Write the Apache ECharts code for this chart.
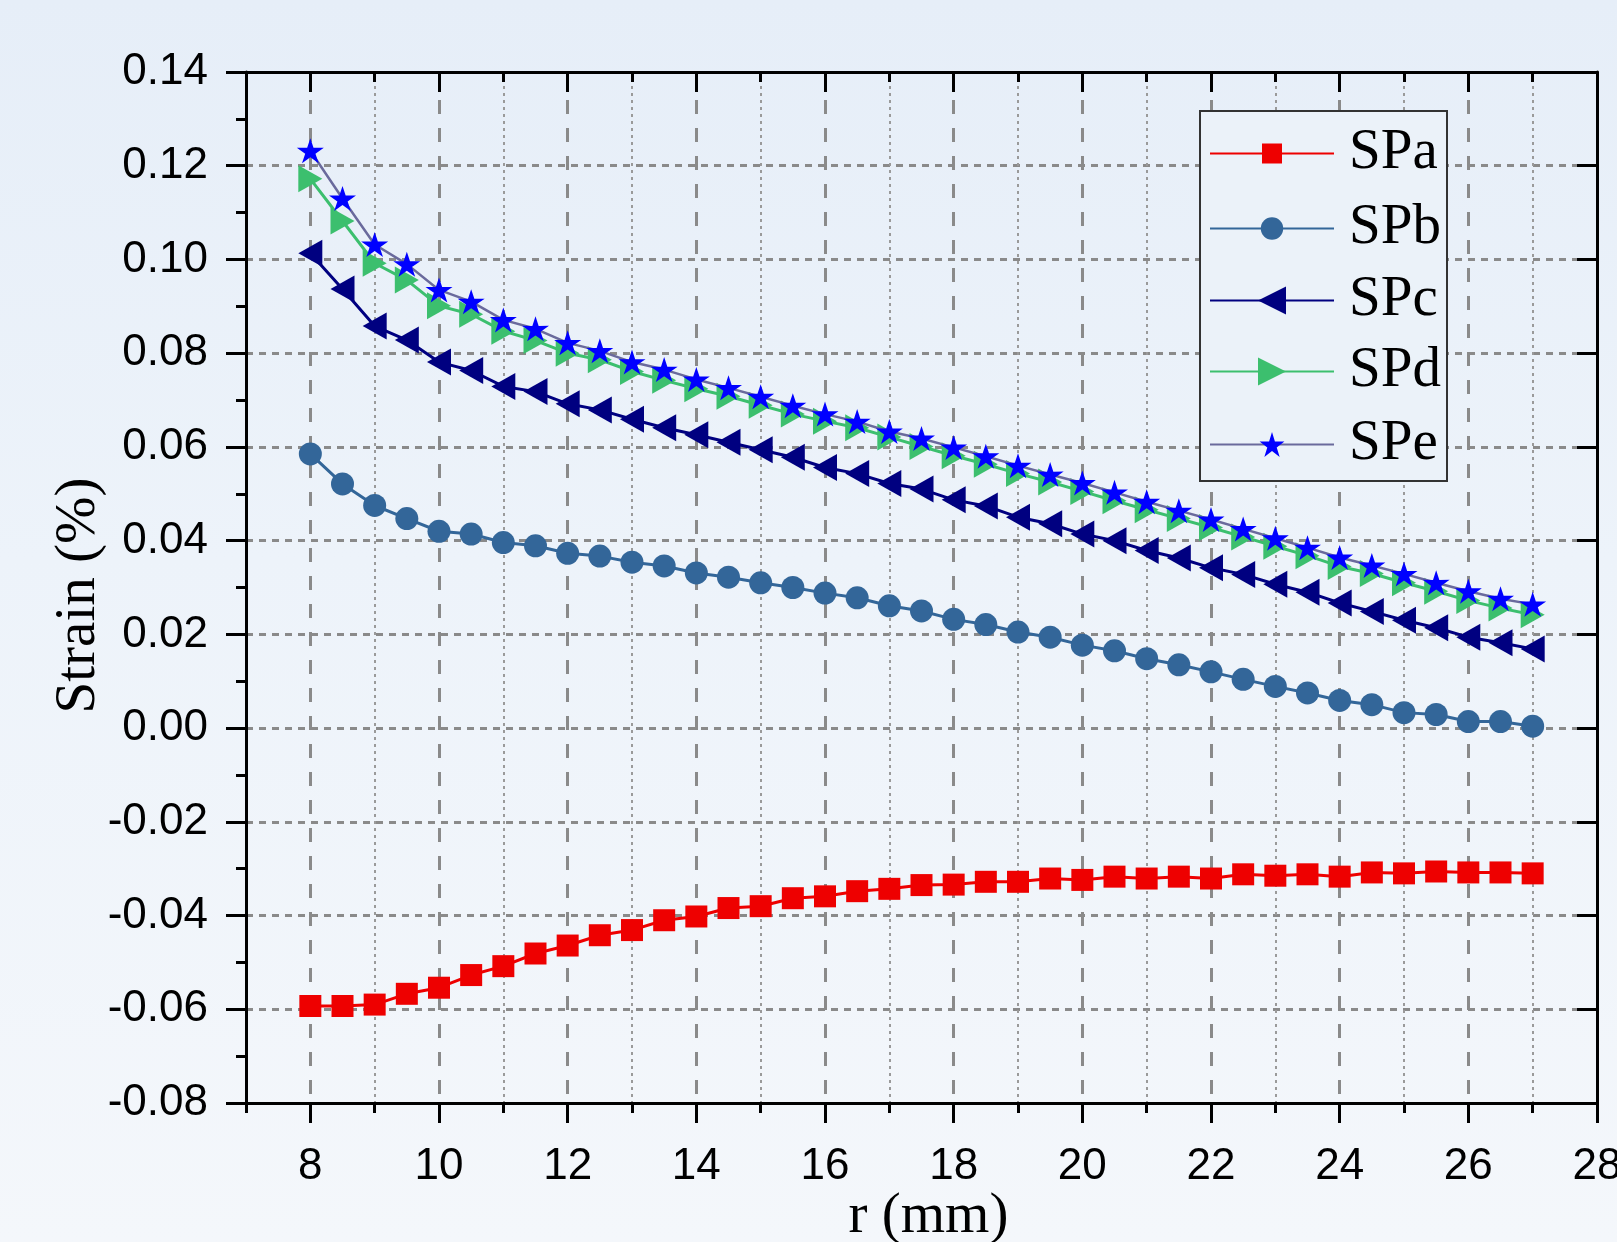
<!DOCTYPE html>
<html>
<head>
<meta charset="utf-8">
<script src="https://cdn.jsdelivr.net/npm/echarts@6/dist/echarts.min.js"></script>
<style>
html,body{margin:0;padding:0;width:1617px;height:1242px;overflow:hidden;
background:linear-gradient(to bottom,#e6eef8 0%,#edf3fa 45%,#f4f7fb 100%);}
#chart{width:1617px;height:1242px;}
</style>
</head>
<body>
<div id="chart"></div>
<script>
const rValues = [8,8.5,9,9.5,10,10.5,11,11.5,12,12.5,13,13.5,14,14.5,15,15.5,16,16.5,17,17.5,18,18.5,19,19.5,20,20.5,21,21.5,22,22.5,23,23.5,24,24.5,25,25.5,26,26.5,27];
const SPa = [-0.0593,-0.0593,-0.0590,-0.0567,-0.0554,-0.0527,-0.0508,-0.0481,-0.0464,-0.0442,-0.0431,-0.0410,-0.0402,-0.0384,-0.0380,-0.0363,-0.0359,-0.0348,-0.0343,-0.0335,-0.0334,-0.0328,-0.0328,-0.0321,-0.0324,-0.0317,-0.0321,-0.0317,-0.0321,-0.0312,-0.0315,-0.0312,-0.0317,-0.0308,-0.0310,-0.0306,-0.0308,-0.0308,-0.0310];
const SPb = [0.0585,0.0521,0.0475,0.0447,0.0420,0.0414,0.0396,0.0389,0.0373,0.0367,0.0354,0.0346,0.0331,0.0322,0.0310,0.0300,0.0288,0.0278,0.0261,0.0250,0.0232,0.0221,0.0205,0.0194,0.0177,0.0165,0.0148,0.0135,0.0120,0.0104,0.0089,0.0075,0.0059,0.0050,0.0033,0.0029,0.0014,0.0014,0.0004];
const SPc = [0.1013,0.0937,0.0858,0.0828,0.0781,0.0763,0.0729,0.0718,0.0692,0.0679,0.0659,0.0641,0.0626,0.0610,0.0594,0.0578,0.0556,0.0543,0.0522,0.0510,0.0487,0.0474,0.0450,0.0436,0.0414,0.0400,0.0379,0.0363,0.0342,0.0328,0.0307,0.0290,0.0267,0.0249,0.0230,0.0214,0.0194,0.0182,0.0169];
const SPd = [0.1172,0.1082,0.0992,0.0956,0.0901,0.0883,0.0847,0.0827,0.0800,0.0786,0.0761,0.0742,0.0724,0.0708,0.0689,0.0670,0.0655,0.0641,0.0621,0.0601,0.0581,0.0563,0.0543,0.0525,0.0505,0.0485,0.0466,0.0447,0.0428,0.0408,0.0388,0.0368,0.0345,0.0330,0.0310,0.0292,0.0272,0.0256,0.0242];
const SPe = [0.1232,0.1130,0.1032,0.0990,0.0935,0.0910,0.0871,0.0852,0.0822,0.0805,0.0781,0.0765,0.0744,0.0726,0.0707,0.0688,0.0670,0.0654,0.0633,0.0618,0.0599,0.0580,0.0560,0.0541,0.0523,0.0503,0.0483,0.0464,0.0445,0.0425,0.0405,0.0385,0.0364,0.0347,0.0329,0.0310,0.0292,0.0276,0.0264];
const seriesNames = ['SPa','SPb','SPc','SPd','SPe'];
const xMajorTicks = [8,10,12,14,16,18,20,22,24,26,28];
const xMinorTicks = [7,9,11,13,15,17,19,21,23,25,27];

const tickFont = "'Liberation Sans', Arial, sans-serif";
const tickSize = 44;
const serif = "'Liberation Serif', 'Times New Roman', serif";

const STAR = 'path://M50 0L61.17 34.63L97.55 34.55L68.07 55.87L79.39 90.45L50 69L20.61 90.45L31.93 55.87L2.45 34.55L38.83 34.63Z';

function pairs(ys){ return rValues.map((x,i)=>[x,ys[i]]); }

const chart = echarts.init(document.getElementById('chart'), null, {renderer:'canvas'});
const majorCol = '#8a8a8a';
const minorCol = '#9a9a9a';
const xBase = {type:'value', min:7, max:28, gridIndex:0};

// legend layout: one legend per entry so each marker can have its own size
const legendCenters = [150, 225, 297, 368, 441];
const legendItemH = [25, 28, 35, 35, 31];
const legends = seriesNames.map((n,i)=>({
  left:1209, top:legendCenters[i]-25, orient:'vertical',
  itemWidth:124, itemHeight:legendItemH[i], padding:0, z:5,
  textStyle:{fontFamily:serif, fontSize:57, color:'#000', lineHeight:57, padding:[0,0,0,10]},
  data:[n]
}));

const option = {
  backgroundColor:'transparent',
  animation:false,
  grid:{left:246, right:20, top:72, bottom:139, containLabel:false, outerBoundsMode:'none'},
  graphic:[{
    type:'rect', left:1199, top:110, z:4,
    shape:{width:247, height:370},
    style:{fill:'#ebf2f9', stroke:'#333', lineWidth:2}
  }],
  legend:legends,
  xAxis:[
    Object.assign({}, xBase, {
      position:'bottom', name:'r (mm)', nameLocation:'middle', nameGap:86, nameMoveOverlap:false,
      nameTextStyle:{fontFamily:serif, fontSize:57, color:'#000', verticalAlign:'top', padding:[0,0,0,14]},
      axisLine:{show:true, onZero:false, lineStyle:{color:'#000', width:3}},
      axisTick:{show:true, inside:false, length:20, customValues:xMajorTicks, lineStyle:{color:'#000', width:3}},
      axisLabel:{show:true, customValues:xMajorTicks, margin:42, color:'#000', fontFamily:tickFont, fontSize:tickSize},
      splitLine:{show:true, lineStyle:{color:majorCol, width:3, type:[14,14]}}
    }),
    Object.assign({}, xBase, {
      position:'bottom',
      axisLine:{show:false, onZero:false},
      axisTick:{show:true, inside:false, length:10, customValues:xMinorTicks, lineStyle:{color:'#000', width:3}},
      axisLabel:{show:false},
      splitLine:{show:true, lineStyle:{color:minorCol, width:2, type:[3,4]}}
    }),
    Object.assign({}, xBase, {
      position:'top',
      axisLine:{show:true, onZero:false, lineStyle:{color:'#000', width:3}},
      axisTick:{show:true, inside:true, length:20, customValues:xMajorTicks, lineStyle:{color:'#000', width:3}},
      axisLabel:{show:false}, splitLine:{show:false}
    }),
    Object.assign({}, xBase, {
      position:'top',
      axisLine:{show:false, onZero:false},
      axisTick:{show:true, inside:true, length:10, customValues:xMinorTicks, lineStyle:{color:'#000', width:3}},
      axisLabel:{show:false}, splitLine:{show:false}
    })
  ],
  yAxis:[
    {
      type:'value', min:-0.08, max:0.14, interval:0.02, position:'left',
      name:'Strain (%)', nameLocation:'middle', nameGap:138, nameMoveOverlap:false,
      nameTextStyle:{fontFamily:serif, fontSize:57, color:'#000', padding:[0,16,0,0]},
      axisLine:{show:true, onZero:false, lineStyle:{color:'#000', width:3}},
      axisTick:{show:true, inside:false, length:20, lineStyle:{color:'#000', width:3}},
      minorTick:{show:true, splitNumber:2, length:10, lineStyle:{color:'#000', width:3}},
      axisLabel:{margin:38, color:'#000', fontFamily:tickFont, fontSize:tickSize,
        formatter:v=>(Math.abs(v)<1e-9?0:v).toFixed(2)},
      splitLine:{show:true, lineStyle:{color:majorCol, width:3, type:[7,6]}}
    },
    {
      type:'value', min:-0.08, max:0.14, interval:0.02, position:'right',
      axisLine:{show:true, onZero:false, lineStyle:{color:'#000', width:3}},
      axisTick:{show:true, inside:true, length:20, lineStyle:{color:'#000', width:3}},
      axisLabel:{show:false}, splitLine:{show:false}
    }
  ],
  series:[
    {name:'SPa', type:'line', data:pairs(SPa), symbol:'rect', symbolSize:22,
      lineStyle:{color:'#ee0000', width:3}, itemStyle:{color:'#ee0000'}, z:5},
    {name:'SPb', type:'line', data:pairs(SPb), symbol:'circle', symbolSize:23,
      lineStyle:{color:'#336699', width:3}, itemStyle:{color:'#336699'}, z:5},
    {name:'SPc', type:'line', data:pairs(SPc), symbol:'triangle', symbolRotate:90, symbolSize:[27,24],
      lineStyle:{color:'#000080', width:3}, itemStyle:{color:'#000080'}, z:5},
    {name:'SPd', type:'line', data:pairs(SPd), symbol:'triangle', symbolRotate:-90, symbolSize:[27,24],
      lineStyle:{color:'#3cbf6e', width:3}, itemStyle:{color:'#3cbf6e'}, z:5},
    {name:'SPe', type:'line', data:pairs(SPe), symbol:STAR, symbolSize:[27,25],
      lineStyle:{color:'#6a6a9c', width:2.5}, itemStyle:{color:'#0000ff'}, z:6}
  ]
};
chart.setOption(option);
</script>
</body>
</html>
